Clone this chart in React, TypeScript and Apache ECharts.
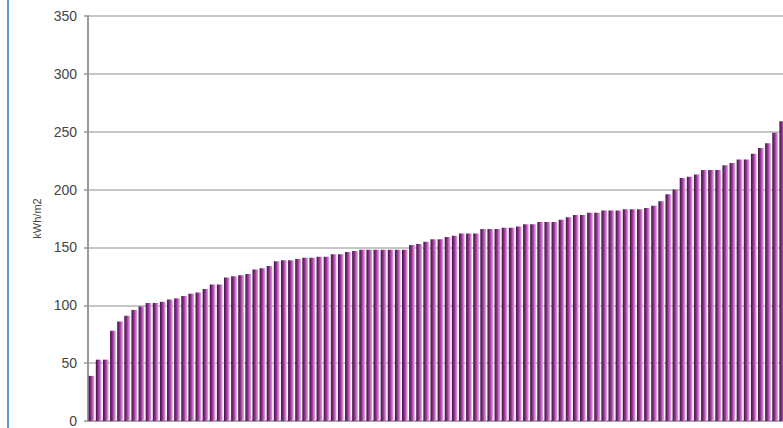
import React, { useEffect, useRef } from "react";
import * as echarts from "echarts";

const values: number[] = [
  39, 53, 53, 78, 86, 91, 96, 99, 102, 102, 103, 105, 106, 108, 110, 111, 114,
  118, 118, 124, 125, 126, 127, 131, 132, 134, 138, 139, 139, 140, 141, 141, 142,
  142, 144, 144, 146, 147, 148, 148, 148, 148, 148, 148, 148, 152, 153, 155, 157,
  157, 159, 160, 162, 162, 162, 166, 166, 166, 167, 167, 168, 170, 170, 172, 172,
  172, 174, 176, 178, 178, 180, 180, 182, 182, 182, 183, 183, 183, 184, 186, 190,
  196, 200, 210, 211, 213, 217, 217, 217, 221, 223, 226, 226, 231, 236, 240, 249, 259,
];
const categories: string[] = values.map((_, i) => String(i + 1));
const yMin = 0;
const yMax = 350;
const yStep = 50;
const yName = "kWh/m2";

export default function App() {
  const ref = useRef<HTMLDivElement>(null);
  useEffect(() => {
    if (!ref.current) return;
    const chart = echarts.init(ref.current, undefined, { renderer: "svg" });
    chart.setOption({
      animation: false,
      backgroundColor: "#ffffff",
      textStyle: { fontFamily: "Liberation Sans, Arial, sans-serif" },
      grid: { left: 88, top: 16, width: 697.8, height: 406 },
      graphic: [
        {
          type: "rect",
          shape: { x: 7, y: 0, width: 2, height: 428 },
          style: { fill: "#5b9bd5" },
        },
      ],
      xAxis: {
        type: "category",
        data: categories,
        boundaryGap: true,
        axisLine: { show: true, lineStyle: { color: "#999", width: 1.5 } },
        axisTick: { show: false },
        axisLabel: { show: false },
      },
      yAxis: {
        type: "value",
        min: yMin,
        max: yMax,
        interval: yStep,
        name: yName,
        nameLocation: "middle",
        nameGap: 46,
        nameTextStyle: { fontSize: 11, color: "#444" },
        axisLine: { show: true, lineStyle: { color: "#999", width: 2 } },
        axisTick: { show: true, length: 4, lineStyle: { color: "#999", width: 1.5 } },
        axisLabel: { fontSize: 14, color: "#444", margin: 11 },
        splitLine: { show: true, lineStyle: { color: "#b4b4b4", width: 1.5 } },
      },
      series: [
        {
          type: "bar",
          data: values,
          barCategoryGap: "20%",
          itemStyle: {
            color: new echarts.graphic.LinearGradient(0, 0, 1, 0, [
              { offset: 0, color: "#3f123f" },
              { offset: 0.25, color: "#6a236a" },
              { offset: 0.5, color: "#9c3c9c" },
              { offset: 0.8, color: "#cf82cf" },
              { offset: 1, color: "#e2aee2" },
            ]),
          },
        },
      ],
    });
    return () => chart.dispose();
  }, []);
  return (
    <div
      style={{
        position: "fixed",
        left: 0,
        top: 0,
        width: 783,
        height: 428,
        overflow: "hidden",
        background: "#fff",
      }}
    >
      <div ref={ref} style={{ width: 800, height: 428 }} />
    </div>
  );
}
